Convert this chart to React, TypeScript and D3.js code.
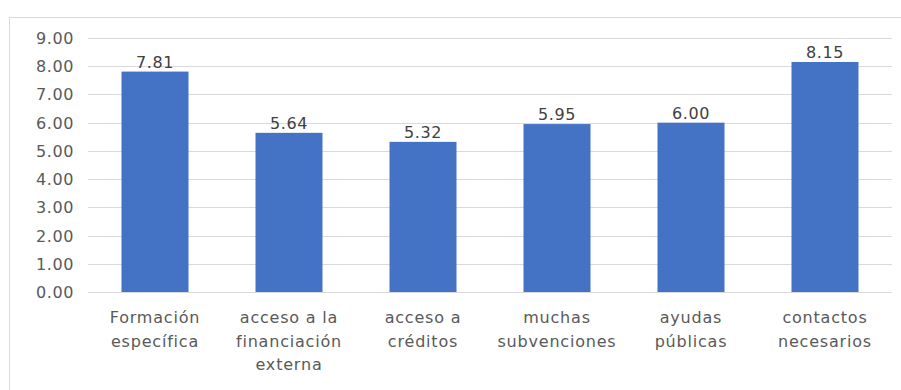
import * as d3 from "d3";
import { useEffect, useRef } from "react";

const categories = [
  ["Formación", "específica"],
  ["acceso a la", "financiación", "externa"],
  ["acceso a", "créditos"],
  ["muchas", "subvenciones"],
  ["ayudas", "públicas"],
  ["contactos", "necesarios"],
];
const values = [7.81, 5.64, 5.32, 5.95, 6.0, 8.15];
const yTicks = [0, 1, 2, 3, 4, 5, 6, 7, 8, 9];

const W = 901;
const H = 390;

export default function App() {
  const svgRef = useRef<SVGSVGElement>(null);

  useEffect(() => {
    if (!svgRef.current) return;
    const svg = d3.select(svgRef.current);
    svg.selectAll("*").remove();

    const font = "'DejaVu Sans', Verdana, sans-serif";
    const left = 88;
    const right = 892;
    const top = 38;
    const bottom = 292;

    // outer chart frame
    svg
      .append("rect")
      .attr("x", 9.5)
      .attr("y", 17.5)
      .attr("width", 900)
      .attr("height", 380)
      .attr("fill", "white")
      .attr("stroke", "#d9d9d9");

    const x = d3
      .scaleBand<number>()
      .domain(d3.range(values.length))
      .range([left, right])
      .paddingInner(0.5)
      .paddingOuter(0.25);

    const y = d3.scaleLinear().domain([0, 9]).range([bottom, top]);

    // gridlines + tick labels
    const grid = svg.append("g");
    grid
      .selectAll("line")
      .data(yTicks)
      .enter()
      .append("line")
      .attr("x1", left)
      .attr("x2", right)
      .attr("y1", (d) => Math.round(y(d)) + 0.5)
      .attr("y2", (d) => Math.round(y(d)) + 0.5)
      .attr("stroke", "#d9d9d9")
      .attr("stroke-width", 1);

    grid
      .selectAll("text")
      .data(yTicks)
      .enter()
      .append("text")
      .attr("x", 74)
      .attr("y", (d) => y(d) + 6)
      .attr("text-anchor", "end")
      .style("font-family", font)
      .style("font-size", "16px")
      .style("letter-spacing", "0.6px")
      .style("fill", "#595959")
      .text((d) => d.toFixed(2));

    // bars
    svg
      .append("g")
      .selectAll("rect")
      .data(values)
      .enter()
      .append("rect")
      .attr("x", (_, i) => x(i)!)
      .attr("y", (d) => y(d))
      .attr("width", x.bandwidth())
      .attr("height", (d) => bottom - y(d))
      .attr("fill", "#4472c4");

    // value labels
    svg
      .append("g")
      .selectAll("text")
      .data(values)
      .enter()
      .append("text")
      .attr("x", (_, i) => x(i)! + x.bandwidth() / 2)
      .attr("y", (d) => y(d) - 4)
      .attr("text-anchor", "middle")
      .style("font-family", font)
      .style("font-size", "16px")
      .style("letter-spacing", "0.6px")
      .style("fill", "#404040")
      .text((d) => d.toFixed(2));

    // category labels
    const cat = svg
      .append("g")
      .selectAll("text")
      .data(categories)
      .enter()
      .append("text")
      .attr("text-anchor", "middle")
      .style("font-family", font)
      .style("font-size", "16px")
      .style("letter-spacing", "0.8px")
      .style("fill", "#595959");

    cat
      .selectAll("tspan")
      .data((d, i) => d.map((line) => ({ line, i })))
      .enter()
      .append("tspan")
      .attr("x", (d) => x(d.i)! + x.bandwidth() / 2)
      .attr("y", (_, j) => 323 + j * 23.5)
      .text((d) => d.line);
  }, []);

  return (
    <div style={{ position: "absolute", left: 0, top: 0, width: W, height: H, background: "white" }}>
      <svg ref={svgRef} width={W} height={H} />
    </div>
  );
}
